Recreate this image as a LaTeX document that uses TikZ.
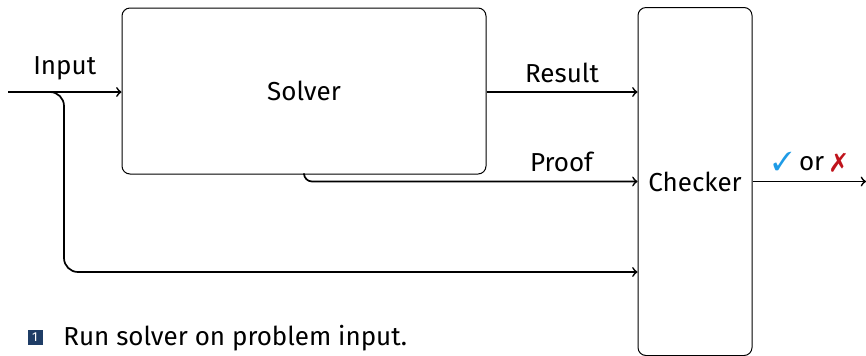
\documentclass[tikz,border=0pt]{standalone}
\usepackage{fontspec}
\setmainfont{Fira Sans}
\usepackage{pifont}
\definecolor{okblue}{HTML}{1E9BE6}
\definecolor{badred}{HTML}{C0141C}
\definecolor{itemblue}{HTML}{1F3D66}
\tikzset{
  box/.style={draw,line width=0.5pt,rounded corners=4pt},
  flow/.style={->,line width=0.85pt},
}
\begin{document}
\begin{tikzpicture}[x=0.5pt,y=-0.5pt,>=to,font=\fontsize{13}{15}\selectfont]
            \useasboundingbox (0,0) rectangle (866,355);
            \node[box,minimum width=182pt,minimum height=83pt] (solver) at (304,91) {Solver};
            \node[box,minimum width=57pt,minimum height=174pt] (checker) at (695,181.5) {Checker};
            \coordinate (in) at (8,92);
            \coordinate (split) at (48,92);
            \coordinate (out) at (866,181.5);
            \draw[flow] (in) -- (in -| solver.west) node[pos=0.5,above=2pt]{Input};
            \draw[flow,rounded corners=7pt] (split) -| (64,272) -- (checker.west |- 0,272);
            \draw[flow] (solver.east |- in) -- (checker.west |- in) node[pos=0.5,above=1pt]{Result};
            \draw[flow,rounded corners=4pt] (solver.south) |- (checker.west) node[pos=0.886,above=1pt]{Proof};
            \draw[flow] (checker.east) -- (out) node[pos=0.5,above=1pt]{\textcolor{okblue}{\ding{51}} or \textcolor{badred}{\ding{55}}};
            % footnote
            \node[fill=itemblue,text=white,inner sep=0pt,minimum size=7.5pt,font=\fontsize{6.5}{6.5}\selectfont] (num) at (35,337) {1};
            \node[anchor=west,inner sep=0pt] (note) at ([xshift=10pt,yshift=-0.5pt]num.east) {Run solver on problem input.};
        \end{tikzpicture}
\end{document}
